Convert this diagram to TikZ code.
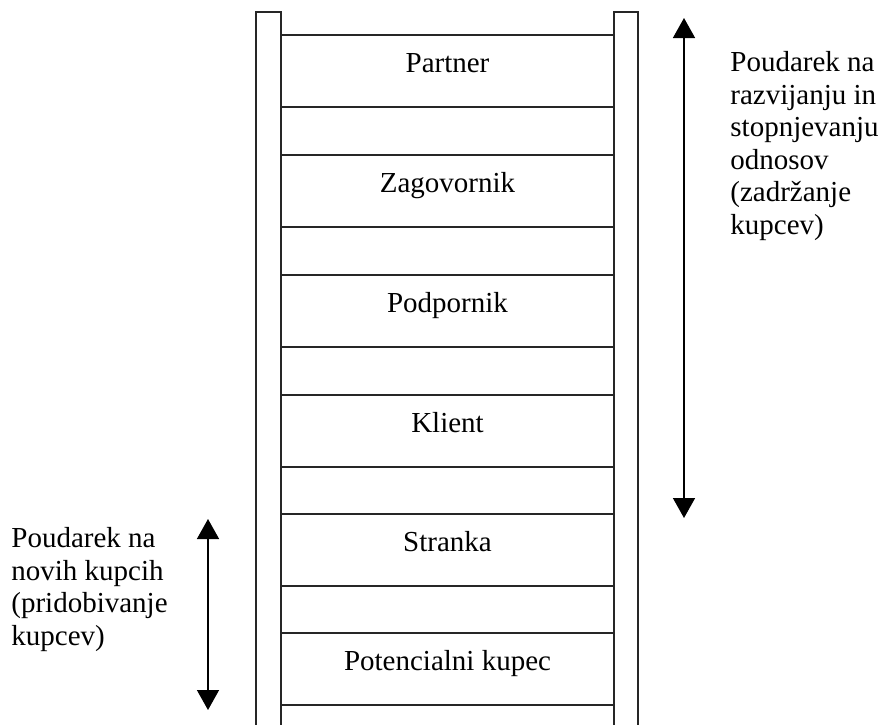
\documentclass[tikz,border=0pt]{standalone}
\usepackage{fontspec}
\setmainfont{Liberation Serif}
\usetikzlibrary{arrows.meta}

\begin{document}
\begin{tikzpicture}[x=0.5pt, y=-0.5pt,
    rail/.style={line width=0.8pt, black!85},
    rung/.style={line width=0.8pt, black!85},
    lbl/.style={font=\fontsize{14.5}{16.25}\selectfont, inner sep=0pt},
    arr/.style={line width=0.75pt, {Triangle[width=11pt,length=10pt]}-{Triangle[width=11pt,length=10pt]}}]
    \useasboundingbox (0,0) rectangle (883,724);

    % rails
    \draw[rail] (256,730) -- (256,12) -- (281,12) -- (281,730);
    \draw[rail] (614,730) -- (614,12) -- (638,12) -- (638,730);

    % steps of the ladder
    \foreach \y/\name/\txt in {35/partner/Partner, 155/zagovornik/Zagovornik,
        275/podpornik/Podpornik, 395/klient/Klient, 514/stranka/Stranka,
        633/potencialni/Potencialni kupec} {
        \draw[rung] (281,\y) -- (614,\y);
        \draw[rung] (281,\y+72) -- (614,\y+72);
        \node[lbl, anchor=base] (\name) at (447.5,\y+37) {\txt};
    }

    % right side (base = last line)
    \coordinate (rtop) at (684,18);
    \coordinate (rbot) at (684,518);
    \draw[arr] (rbot) -- (rtop);
    \node[lbl, anchor=base west, align=left] (retain) at (730,234) {
        Poudarek na\\
        razvijanju in\\
        stopnjevanju\\
        odnosov\\
        (zadržanje\\
        kupcev)
    };

    % left side
    \coordinate (ltop) at (208,519);
    \coordinate (lbot) at (208,710);
    \draw[arr] (lbot) -- (ltop);
    \node[lbl, anchor=base west, align=left] (acquire) at (11,645) {
        Poudarek na\\
        novih kupcih\\
        (pridobivanje\\
        kupcev)
    };
\end{tikzpicture}
\end{document}
